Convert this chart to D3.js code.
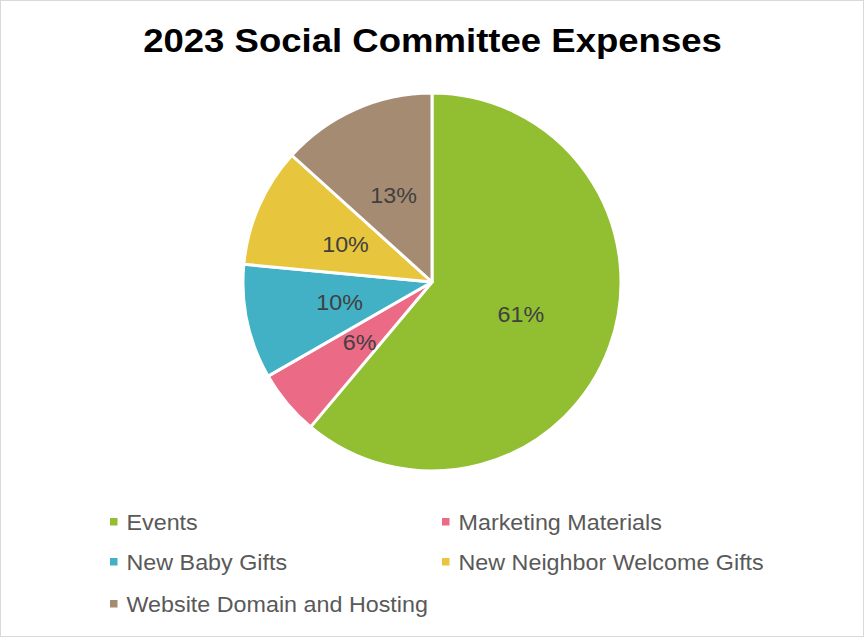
<!DOCTYPE html>
<html><head><meta charset="utf-8">
<script src="https://cdn.jsdelivr.net/npm/d3@7"></script>
<style>html,body{margin:0;padding:0;background:#fff;}</style>
</head><body>
<svg id="c" width="864" height="638"></svg>
<script>
const categories = ["Events","Marketing Materials","New Baby Gifts","New Neighbor Welcome Gifts","Website Domain and Hosting"];
const values = [61.1, 5.6, 9.8, 10.2, 13.3];
const colors = ["#92BE32","#EB6A85","#42B1C6","#E7C53C","#A68B73"];
const FONT = "Liberation Sans, Arial, sans-serif";
const SX = 1.06; // horizontal text stretch seen in the reference

const svg = d3.select("#c");
svg.append("rect").attr("x",0.5).attr("y",0.5).attr("width",863).attr("height",636)
  .attr("fill","#fff").attr("stroke","#D9D9D9").attr("stroke-width",1);

const title = svg.append("text").attr("text-anchor","middle")
  .attr("font-family",FONT).attr("font-weight","bold")
  .attr("font-size",34).attr("fill","#000")
  .text("2023 Social Committee Expenses");
const tl = title.node().getComputedTextLength();
title.attr("transform",`translate(432.5,52) scale(${579/tl},1)`);

const data = categories.map((c,i)=>({cat:c,value:values[i],color:colors[i]}));
const total = d3.sum(values);
const pie = d3.pie().value(d=>d.value).sort(null);
const r = 189;
const arc = d3.arc().innerRadius(0).outerRadius(r);
const g = svg.append("g").attr("transform","translate(432,282)");
const arcs = pie(data);
g.selectAll("path").data(arcs).join("path").attr("d",arc)
  .attr("fill",d=>d.data.color).attr("stroke","#fff").attr("stroke-width",3).attr("stroke-linejoin","round");
g.selectAll("text").data(arcs).join("text")
  .attr("transform",d=>`translate(${arc.centroid(d)}) scale(1.06,1)`)
  .attr("text-anchor","middle").attr("dy","0.35em")
  .attr("font-family",FONT).attr("font-size",22)
  .attr("fill","#404040").text(d=>Math.round(d.data.value/total*100)+"%");

const legX = [110, 442], legY = [522, 562, 604];
const lg = svg.append("g");
data.forEach((d,i)=>{
  const x = legX[i%2], y = legY[Math.floor(i/2)];
  lg.append("rect").attr("x",x).attr("y",y-4).attr("width",7.5).attr("height",7.5).attr("fill",d.color);
  lg.append("text").attr("transform",`translate(${x+16.5},${y}) scale(${SX},1)`).attr("dy","0.35em")
    .attr("font-family",FONT).attr("font-size",22)
    .attr("fill","#595959").text(d.cat);
});
</script>
</body></html>
